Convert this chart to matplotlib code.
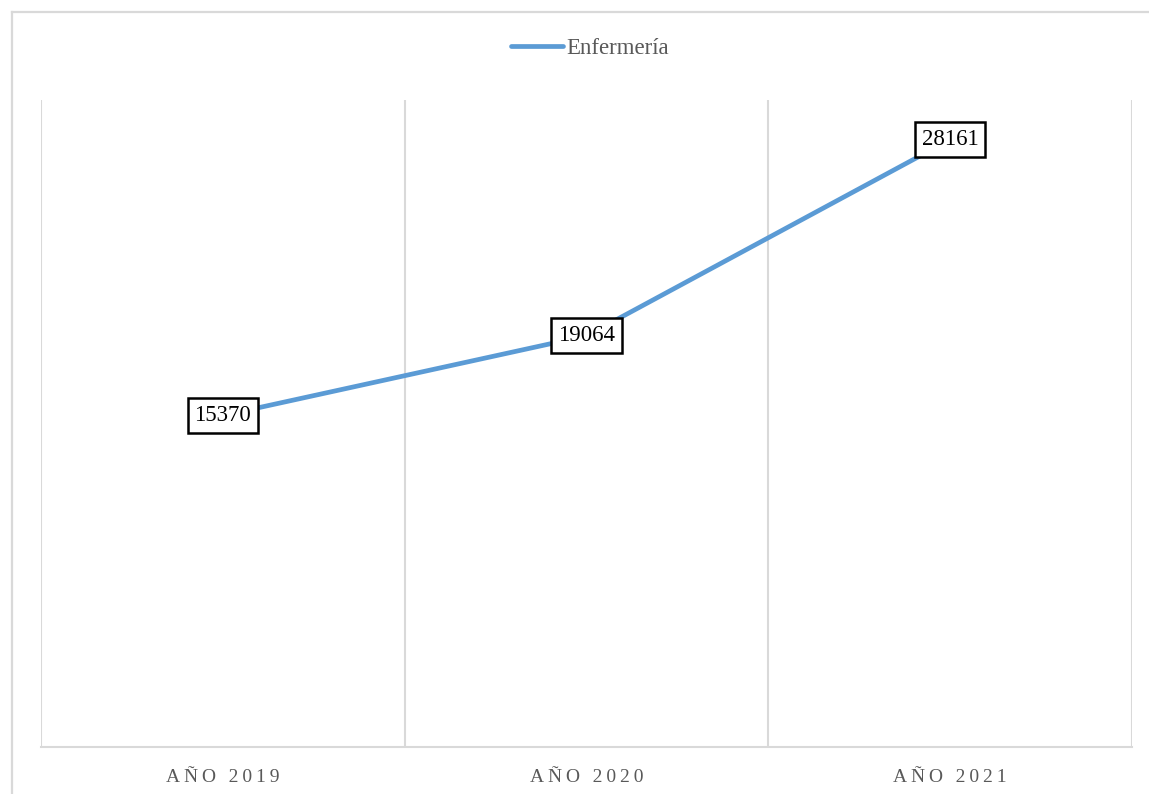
import matplotlib.pyplot as plt
from matplotlib.lines import Line2D

plt.rcParams['font.family'] = ['Liberation Serif', 'DejaVu Serif']

years = ['AÑO 2019', 'AÑO 2020', 'AÑO 2021']
enfermeria = [15370, 19064, 28161]

def spaced(s):
    # letter spacing like the Excel axis labels
    return '\u2009'.join(s)

fig = plt.figure(figsize=(11.49, 7.94), dpi=100)
ax = fig.add_axes([41/1149, 47/794, (1132-41)/1149, (747-100)/794])

x = [i + 0.5 for i in range(len(years))]
ax.plot(x, enfermeria, color='#5B9BD5', lw=3.4, solid_capstyle='round',
        label='Enfermería', zorder=3)

for xi, v in zip(x, enfermeria):
    ax.text(xi, v, str(v), ha='center', va='center', fontsize=16.5,
            color='black', zorder=4,
            bbox=dict(boxstyle='square,pad=0.3', fc='white', ec='black', lw=1.8))

ax.set_xlim(0, len(years))
ax.set_ylim(0, 30000)
ax.set_xticks(x)
ax.set_xticklabels([spaced(y) for y in years], fontsize=14, color='#595959')
ax.tick_params(axis='x', length=0, pad=16)
ax.set_yticks([])
for xv in range(len(years) + 1):
    ax.axvline(xv, color='#D9D9D9', lw=1.5, zorder=1)
for side in ['top', 'right', 'left']:
    ax.spines[side].set_visible(False)
ax.spines['bottom'].set_color('#D9D9D9')
ax.spines['bottom'].set_linewidth(1.5)

leg = fig.legend(loc='center', bbox_to_anchor=(590/1149, 1 - 48/794), frameon=False,
                 fontsize=16.5, handlelength=2.3, handletextpad=0.15)
for t in leg.get_texts():
    t.set_color('#595959')

# outer chart border
fig.add_artist(Line2D([12/1149, 1], [1 - 12/794, 1 - 12/794], color='#D9D9D9', lw=1.6))
fig.add_artist(Line2D([12/1149, 12/1149], [0, 1 - 12/794], color='#D9D9D9', lw=1.6))

plt.savefig('out.png', dpi=100)
